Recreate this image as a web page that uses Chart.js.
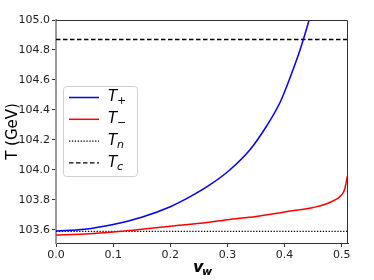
<!DOCTYPE html>
<html>
<head>
<meta charset="utf-8">
<script src="https://cdn.jsdelivr.net/npm/chart.js@4/dist/chart.umd.min.js"></script>
<style>
  body { margin: 0; background: #fff; }
  #wrap { width: 374px; height: 280px; }
</style>
</head>
<body>
<div id="wrap"><canvas id="chart" width="374" height="280"></canvas></div>
<script>
// values
const vwPlus = [0, 0.05, 0.1, 0.15, 0.2, 0.234, 0.269, 0.304, 0.339, 0.368, 0.392, 0.409, 0.427, 0.443, 0.45];
const tPlus = [103.593, 103.605, 103.637, 103.685, 103.755, 103.82, 103.90, 104.0, 104.133, 104.29, 104.45, 104.61, 104.80, 105.0, 105.09];
const vwMinus = [0, 0.05, 0.1, 0.15, 0.2, 0.253, 0.3, 0.35, 0.4, 0.45, 0.48, 0.5, 0.505, 0.51];
const tMinus = [103.567, 103.573, 103.587, 103.605, 103.625, 103.644, 103.668, 103.69, 103.72, 103.75, 103.785, 103.835, 103.87, 103.96];
const tN = 103.59;
const tC = 104.87;
const xRange = [0, 0.511];
const yRange = [103.513, 105.0];
const xTicks = [0, 0.1, 0.2, 0.3, 0.4, 0.5];
const yTicks = [103.6, 103.8, 104.0, 104.2, 104.4, 104.6, 104.8, 105.0];
const legendLabels = [["T", "+"], ["T", "\u2212"], ["T", "n"], ["T", "c"]];

const toPoints = (xs, ys) => xs.map((x, i) => ({ x: x, y: ys[i] }));

// frame, axis titles and legend drawn by hand to get the subscripts right
const extras = {
  id: "extras",
  afterDraw(chart) {
    const ctx = chart.ctx;
    const a = chart.chartArea;
    ctx.save();
    ctx.strokeStyle = "#333";
    ctx.lineWidth = 1;
    ctx.beginPath();
    ctx.moveTo(a.left, a.top + 0.5);
    ctx.lineTo(a.right - 0.5, a.top + 0.5);
    ctx.lineTo(a.right - 0.5, a.bottom);
    ctx.stroke();

    ctx.fillStyle = "#000";
    ctx.textBaseline = "middle";
    // y title
    ctx.save();
    ctx.translate(13, (a.top + a.bottom) / 2);
    ctx.rotate(-Math.PI / 2);
    ctx.textAlign = "center";
    ctx.font = "15px 'DejaVu Sans'";
    ctx.fillText("T (GeV)", 0, 0);
    ctx.restore();
    // x title
    ctx.textAlign = "left";
    ctx.font = "italic bold 16px 'DejaVu Sans'";
    ctx.fillText("v", 193, 268);
    ctx.font = "italic bold 11px 'DejaVu Sans'";
    ctx.fillText("w", 202, 272);

    // legend
    const bx = 63.5, by = 86.5, bw = 74, bh = 90;
    ctx.fillStyle = "rgba(255,255,255,0.8)";
    ctx.strokeStyle = "#d0d0d0";
    ctx.beginPath();
    ctx.roundRect(bx, by, bw, bh, 3);
    ctx.fill();
    ctx.stroke();
    chart.data.datasets.forEach((ds, i) => {
      const y = 97.5 + i * 21.8;
      ctx.strokeStyle = ds.borderColor;
      ctx.lineWidth = ds.borderWidth;
      ctx.setLineDash(ds.borderDash || []);
      ctx.beginPath();
      ctx.moveTo(69, y);
      ctx.lineTo(99, y);
      ctx.stroke();
      ctx.setLineDash([]);
      ctx.fillStyle = "#000";
      ctx.font = "italic 15px 'DejaVu Sans'";
      ctx.fillText(legendLabels[i][0], 108, y);
      const sub = legendLabels[i][1];
      ctx.font = (sub === "+" || sub === "\u2212" ? "" : "italic ") + "11px 'DejaVu Sans'";
      ctx.fillText(sub, 117, y + 4);
    });
    ctx.restore();
  }
};

new Chart(document.getElementById("chart"), {
  type: "scatter",
  data: {
    datasets: [
      { data: toPoints(vwPlus, tPlus), borderColor: "#0000ff", borderWidth: 1.5 },
      { data: toPoints(vwMinus, tMinus), borderColor: "#ff0000", borderWidth: 1.5 },
      { data: toPoints(xRange, [tN, tN]), borderColor: "#000", borderWidth: 1.3, borderDash: [1.3, 1.6] },
      { data: toPoints(xRange, [tC, tC]), borderColor: "#000", borderWidth: 1.3, borderDash: [4.5, 2.5] }
    ].map(ds => Object.assign(ds, { showLine: true, pointRadius: 0, cubicInterpolationMode: "monotone" }))
  },
  options: {
    responsive: false,
    animation: false,
    events: [],
    layout: { padding: { top: 20, right: 26, left: 0, bottom: 0 } },
    plugins: { legend: { display: false }, tooltip: { enabled: false } },
    scales: {
      x: {
        type: "linear",
        min: xRange[0],
        max: xRange[1],
        afterBuildTicks: axis => { axis.ticks = xTicks.map(v => ({ value: v })); },
        afterFit: axis => { axis.height = 37; },
        grid: { drawOnChartArea: false, drawTicks: true, tickLength: 4, color: "#333" },
        border: { color: "#333", width: 1 },
        ticks: { color: "#222", font: { family: "DejaVu Sans", size: 11 }, padding: 2, maxRotation: 0,
                 callback: v => v.toFixed(1) }
      },
      y: {
        type: "linear",
        min: yRange[0],
        max: yRange[1],
        afterBuildTicks: axis => { axis.ticks = yTicks.map(v => ({ value: v })); },
        afterFit: axis => { axis.width = 56; },
        grid: { drawOnChartArea: false, drawTicks: true, tickLength: 4, color: "#333" },
        border: { color: "#999", width: 2 },
        ticks: { color: "#222", font: { family: "DejaVu Sans", size: 11 }, padding: 2,
                 callback: v => v.toFixed(1) }
      }
    }
  },
  plugins: [extras]
});
</script>
</body>
</html>
